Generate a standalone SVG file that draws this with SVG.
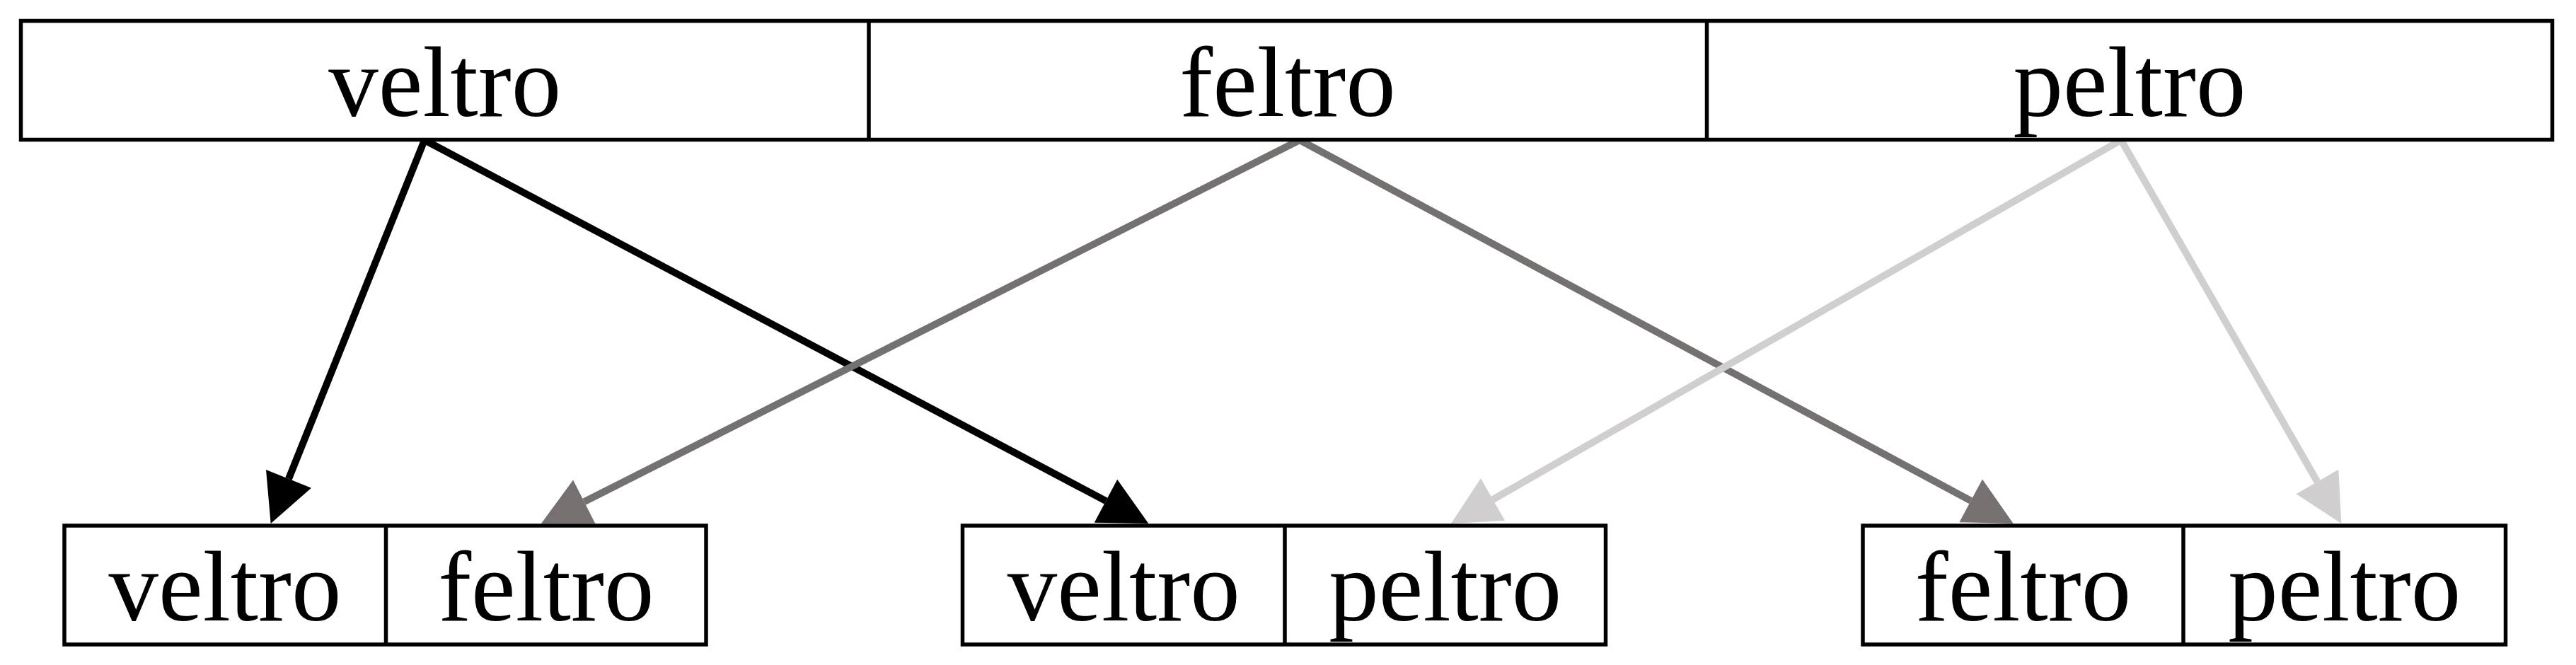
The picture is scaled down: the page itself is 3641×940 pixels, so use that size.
<svg xmlns="http://www.w3.org/2000/svg" width="3641" height="940" viewBox="0 0 3641 940">
<style>
.box{fill:#ffffff;stroke:#000000;stroke-width:5.5}
.div{stroke:#000000;stroke-width:5.5}
.lbl{font-family:"Liberation Serif","Times New Roman",serif;font-size:141px;fill:#000000;text-anchor:middle}
.e{fill:none;stroke-width:10}
.k{stroke:#000000}.kf{fill:#000000}
.g{stroke:#767171}.gf{fill:#767171}
.l{stroke:#d0cece}.lf{fill:#d0cece}
</style>
<rect width="3641" height="940" fill="#ffffff"/>
<g id="connectors">
  <g id="e-veltro-left">
    <path class="e k" d="M600,198 L408,676.9"/>
    <polygon class="kf" points="382.7,740 440,689.7 376,664.1"/>
  </g>
  <g id="e-veltro-mid">
    <path class="e k" d="M600,198 L1563.2,708.2"/>
    <polygon class="kf" points="1623.3,740 1546.8,738.7 1579.2,677.7"/>
  </g>
  <g id="e-feltro-left">
    <path class="e g" d="M1837,198 L825.7,709.3"/>
    <polygon class="gf" points="765,740 841.3,740.1 810.1,678.5"/>
  </g>
  <g id="e-feltro-right">
    <path class="e g" d="M1837,198 L2785.7,707.8"/>
    <polygon class="gf" points="2845.6,740 2769.4,738.2 2802,677.4"/>
  </g>
  <g id="e-peltro-mid">
    <path class="e l" d="M2998,198 L2110,706.2"/>
    <polygon class="lf" points="2051,740 2127.1,736.1 2092.9,676.3"/>
  </g>
  <g id="e-peltro-right">
    <path class="e l" d="M2998,198 L3275.4,681"/>
    <polygon class="lf" points="3309.3,740 3245.5,698.2 3305.3,663.8"/>
  </g>
</g>
<g id="top">
  <rect class="box" x="29.5" y="29.5" width="3578" height="168"/>
  <line class="div" x1="1228" y1="29.5" x2="1228" y2="197.5"/>
  <line class="div" x1="2412.5" y1="29.5" x2="2412.5" y2="197.5"/>
  <text class="lbl" x="628.75" y="164">veltro</text>
  <text class="lbl" x="1820" y="164">feltro</text>
  <text class="lbl" x="3010" y="164">peltro</text>
</g>
<g id="pair-veltro-feltro">
  <rect class="box" x="91" y="743" width="907" height="168"/>
  <line class="div" x1="545.5" y1="743" x2="545.5" y2="911"/>
  <text class="lbl" x="318" y="877">veltro</text>
  <text class="lbl" x="771.8" y="877">feltro</text>
</g>
<g id="pair-veltro-peltro">
  <rect class="box" x="1360.5" y="743" width="909" height="168"/>
  <line class="div" x1="1816" y1="743" x2="1816" y2="911"/>
  <text class="lbl" x="1588.3" y="877">veltro</text>
  <text class="lbl" x="2042.8" y="877">peltro</text>
</g>
<g id="pair-feltro-peltro">
  <rect class="box" x="2633" y="743" width="908.5" height="168"/>
  <line class="div" x1="3086" y1="743" x2="3086" y2="911"/>
  <text class="lbl" x="2859.5" y="877">feltro</text>
  <text class="lbl" x="3313.7" y="877">peltro</text>
</g>
</svg>
